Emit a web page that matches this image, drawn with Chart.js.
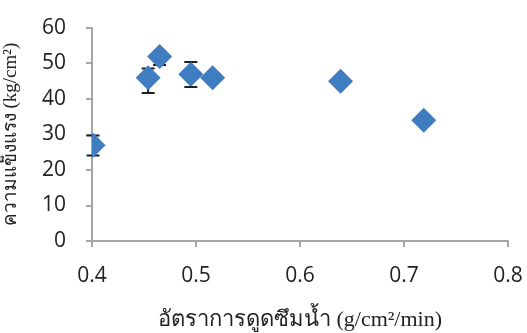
<!DOCTYPE html>
<html>
<head>
<meta charset="utf-8">
<script src="https://cdn.jsdelivr.net/npm/chart.js@4"></script>
<style>
  html, body { margin: 0; padding: 0; background: #fff; }
</style>
</head>
<body>
<canvas id="chart" width="527" height="333"></canvas>
<script>
// absorption rate vs strength
const absorption = [0.401, 0.454, 0.465, 0.495, 0.516, 0.639, 0.719];
const strength   = [27, 46, 52, 47, 46, 45, 34];
const errPlus    = [2.7, 2.6, 1.5, 3.4, 0, 0, 0];
const errMinus   = [2.9, 4.3, 2.4, 3.6, 0, 0, 0];

const xTicks = [0.4, 0.5, 0.6, 0.7, 0.8];
const yTicks = [0, 10, 20, 30, 40, 50, 60];

const xTitle = 'อัตราการดูดซึมน้ำ (g/cm²/min)';
const yTitle = 'ความแข็งแรง (kg/cm²)';

const axisGrey = '#a6a6a6';
const tickFont = { family: '"Open Sans", Lato, sans-serif', size: 21 };
const serif = '"Liberation Serif", "DejaVu Serif", serif';

// error bars behind the markers
const errorBars = {
  id: 'errorBars',
  beforeDatasetsDraw(chart) {
    const { ctx, scales: { x, y } } = chart;
    ctx.save();
    ctx.strokeStyle = '#1f1f1f';
    ctx.lineWidth = 2;
    absorption.forEach((xv, i) => {
      if (!errPlus[i] && !errMinus[i]) return;
      const px = x.getPixelForValue(xv);
      const top = y.getPixelForValue(strength[i] + errPlus[i]);
      const bot = y.getPixelForValue(strength[i] - errMinus[i]);
      ctx.beginPath();
      ctx.moveTo(px, top); ctx.lineTo(px, bot);
      ctx.moveTo(px - 6.5, top); ctx.lineTo(px + 6.5, top);
      ctx.moveTo(px - 6.5, bot); ctx.lineTo(px + 6.5, bot);
      ctx.stroke();
    });
    ctx.restore();
  }
};

new Chart(document.getElementById('chart'), {
  type: 'scatter',
  data: {
    datasets: [{
      data: absorption.map((v, i) => ({ x: v, y: strength[i] })),
      pointStyle: 'rectRot',
      pointRadius: 12.5,
      pointHoverRadius: 12.5,
      backgroundColor: '#3f7cc0',
      borderColor: '#3f7cc0',
      borderWidth: 0,
    }]
  },
  options: {
    responsive: false,
    animation: false,
    devicePixelRatio: 1,
    layout: { padding: { top: 28, right: 19, left: 0, bottom: 0 } },
    plugins: {
      legend: { display: false },
      tooltip: { enabled: false }
    },
    scales: {
      x: {
        type: 'linear',
        min: 0.4,
        max: 0.8,
        afterBuildTicks: (s) => { s.ticks = xTicks.map(v => ({ value: v })); },
        afterFit: (s) => { s.height = 92; s.paddingLeft = 0; s.paddingRight = 0; },
        ticks: {
          color: '#222',
          font: tickFont,
          padding: 16,
          callback: (v) => v.toFixed(1)
        },
        grid: { drawOnChartArea: false, color: axisGrey, lineWidth: 2, tickLength: 6 },
        border: { color: axisGrey, width: 2 },
        title: {
          display: true,
          text: xTitle,
          color: '#222',
          font: { family: serif, size: 22 },
          padding: { top: 0, bottom: 0 }
        }
      },
      y: {
        type: 'linear',
        min: 0,
        max: 60,
        afterBuildTicks: (s) => { s.ticks = yTicks.map(v => ({ value: v })); },
        afterFit: (s) => { s.width = 92; s.paddingTop = 0; s.paddingBottom = 0; },
        ticks: {
          color: '#222',
          font: tickFont,
          padding: 20
        },
        grid: { drawOnChartArea: false, color: axisGrey, lineWidth: 2, tickLength: 6 },
        border: { color: axisGrey, width: 2 },
        title: {
          display: true,
          text: yTitle,
          color: '#222',
          font: { family: serif, size: 19 },
          padding: { top: 0, bottom: 0 }
        }
      }
    }
  },
  plugins: [errorBars]
});
</script>
</body>
</html>
